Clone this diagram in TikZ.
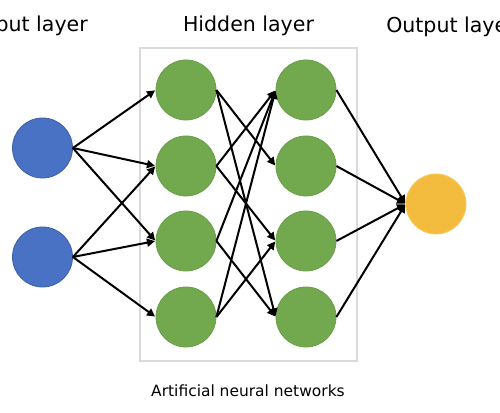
\documentclass[tikz,border=0pt]{standalone}
\usepackage{fontspec}
\setmainfont{DejaVu Sans}
\usetikzlibrary{arrows.meta}
\definecolor{inblue}{HTML}{4A72C4}
\definecolor{inblueline}{HTML}{3A5FA5}
\definecolor{hidgreen}{HTML}{72A94F}
\definecolor{hidgreenline}{HTML}{6A9E48}
\definecolor{outgold}{HTML}{F3BC3F}
\definecolor{outgoldline}{HTML}{F6C955}
\definecolor{boxgray}{HTML}{DADADA}
\begin{document}
\begin{tikzpicture}[x=0.75pt,y=-0.75pt,
  neuron/.style={circle,minimum size=45pt,inner sep=0pt,line width=0.6pt},
  innode/.style={neuron,fill=inblue,draw=inblueline},
  hidnode/.style={neuron,fill=hidgreen,draw=hidgreenline},
  outnode/.style={neuron,fill=outgold,draw=outgoldline},
  conn/.style={line width=1.5pt,-{Triangle[length=6pt,width=6pt]},shorten >=0.5pt},
  title/.style={font=\fontsize{15.4pt}{18pt}\selectfont,anchor=base,inner sep=0pt}]
\useasboundingbox (0,0) rectangle (500,413);
\clip (0,0) rectangle (500,413);
\fill[white] (0,0) rectangle (500,413);
\draw[boxgray,line width=0.9pt] (140,48) rectangle (357,361);
\node[title,anchor=base east] (tin) at (88,32) {Input layer};
\node[title] (thid) at (248.5,32) {Hidden layer};
\node[title,anchor=base west] (tout) at (386,33) {Output layer};
\node[font=\fontsize{11.6pt}{14pt}\selectfont,anchor=base,inner sep=0pt] (cap) at (248,397) {Artificial neural networks};
\node[innode] (i1) at (42.5,148) {};
\node[innode] (i2) at (42.5,257) {};
\node[hidnode] (a1) at (186,90) {};
\node[hidnode] (a2) at (186,166) {};
\node[hidnode] (a3) at (186,241) {};
\node[hidnode] (a4) at (186,317) {};
\node[hidnode] (b1) at (306,90) {};
\node[hidnode] (b2) at (306,166) {};
\node[hidnode] (b3) at (306,241) {};
\node[hidnode] (b4) at (306,317) {};
\node[outnode] (o) at (436,204) {};
\foreach \s/\t in {i1/a1,i1/a2,i1/a3,i2/a2,i2/a3,i2/a4,
  a1/b2,a1/b4,a2/b1,a2/b3,a3/b1,a3/b4,a4/b1,a4/b3,
  b1/o,b2/o,b3/o,b4/o}
  \draw[conn] (\s.east) -- (\t.west);
\end{tikzpicture}
\end{document}
